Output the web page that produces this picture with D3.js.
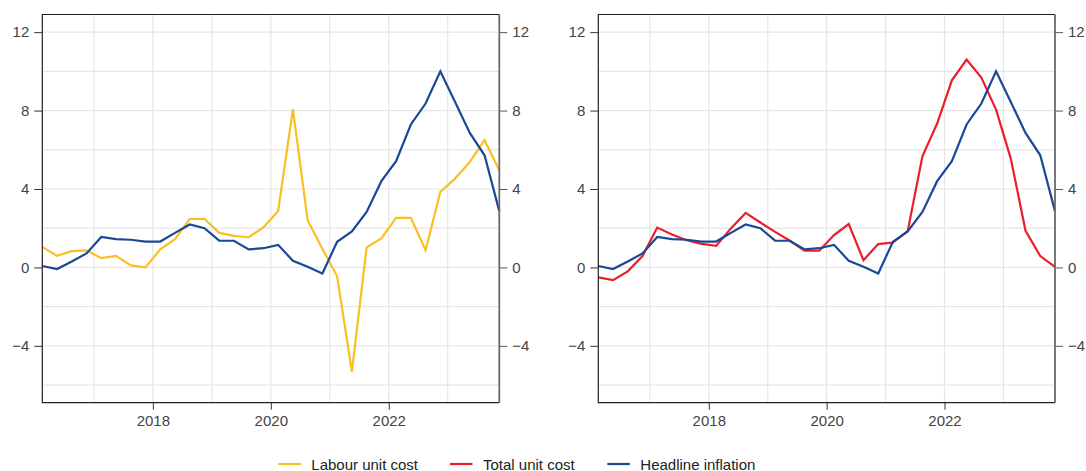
<!DOCTYPE html>
<html><head><meta charset="utf-8">
<script src="https://cdn.jsdelivr.net/npm/d3@7"></script>
<style>
body{margin:0;background:#fff;}
svg text{font-family:"Liberation Sans",Arial,sans-serif;}
</style></head>
<body><svg id="c" width="1086" height="471"></svg>
<script>
const quarters = ["2016Q1","2016Q2","2016Q3","2016Q4","2017Q1","2017Q2","2017Q3","2017Q4",
"2018Q1","2018Q2","2018Q3","2018Q4","2019Q1","2019Q2","2019Q3","2019Q4",
"2020Q1","2020Q2","2020Q3","2020Q4","2021Q1","2021Q2","2021Q3","2021Q4",
"2022Q1","2022Q2","2022Q3","2022Q4","2023Q1","2023Q2","2023Q3","2023Q4"];
const headlineInflation = [0.07,-0.08,0.3,0.71,1.55,1.44,1.41,1.32,1.32,1.76,2.19,2.0,1.37,1.36,0.92,0.98,
1.15,0.34,0.03,-0.31,1.31,1.84,2.83,4.4,5.42,7.29,8.36,10.0,8.44,6.86,5.72,2.87];
const labourUnitCost = [1.05,0.59,0.83,0.87,0.47,0.59,0.1,0.0,0.92,1.44,2.47,2.48,1.76,1.61,1.54,2.04,
2.88,8.07,2.41,0.95,-0.45,-5.32,1.02,1.48,2.53,2.53,0.88,3.85,4.53,5.38,6.49,4.96];
const totalUnitCost = [-0.51,-0.65,-0.2,0.58,2.03,1.68,1.39,1.2,1.1,1.99,2.78,2.29,1.81,1.36,0.85,0.85,
1.65,2.21,0.37,1.19,1.27,1.85,5.67,7.34,9.54,10.6,9.68,8.05,5.55,1.87,0.58,0.03];
const yTickValues = [-4,0,4,8,12];
const yGridValues = [-6,-4,-2,0,2,4,6,8,10,12];
const xTickYears = [2018,2020,2022];
const xGridYears = [2017,2018,2019,2020,2021,2022,2023];
const legendItems = [
  {name:"Labour unit cost", color:"#FBBF24"},
  {name:"Total unit cost", color:"#EC1E2C"},
  {name:"Headline inflation", color:"#1B4896"}
];
const colors = {labour:"#FBBF24", total:"#EC1E2C", headline:"#1B4896"};

function qToYear(q){ const yy=+q.slice(0,4), n=+q.slice(5); return yy + (n-0.5)/4; }

const svg = d3.select("#c");
const plotTop=14.5, plotBottom=402.7;
const yScale = d3.scaleLinear().domain([-6.9,12.9]).range([plotBottom, plotTop]);

function panel(left, right, series){
  const x = d3.scaleLinear().domain([qToYear(quarters[0]), qToYear(quarters[quarters.length-1])]).range([left,right]);
  const g = svg.append("g");
  g.selectAll(".hg").data(yGridValues).enter().append("line")
    .attr("x1",left).attr("x2",right).attr("y1",d=>yScale(d)).attr("y2",d=>yScale(d))
    .attr("stroke","#e6e6e6").attr("stroke-width",1.2);
  g.selectAll(".vg").data(xGridYears).enter().append("line")
    .attr("x1",d=>x(d)).attr("x2",d=>x(d)).attr("y1",plotTop).attr("y2",plotBottom)
    .attr("stroke","#e6e6e6").attr("stroke-width",1.2);
  series.forEach(s=>{
    const line = d3.line().x((d,i)=>x(qToYear(quarters[i]))).y(d=>yScale(d));
    g.append("path").datum(s.values).attr("d",line).attr("fill","none")
      .attr("stroke",s.color).attr("stroke-width",2.2).attr("stroke-linejoin","miter");
  });
  const fmt = d=> d<0 ? "\u2212"+Math.abs(d) : String(d);
  const la = g.append("g").attr("transform",`translate(${left},0)`)
    .call(d3.axisLeft(yScale).tickValues(yTickValues).tickSize(8).tickPadding(5).tickFormat(fmt));
  const ra = g.append("g").attr("transform",`translate(${right},0)`)
    .call(d3.axisRight(yScale).tickValues(yTickValues).tickSize(8).tickPadding(5).tickFormat(fmt));
  const ba = g.append("g").attr("transform",`translate(0,${plotBottom})`)
    .call(d3.axisBottom(x).tickValues(xTickYears).tickSize(7).tickPadding(6).tickFormat(d3.format("d")));
  [la,ra,ba].forEach(a=>{
    a.select(".domain").remove();
    a.selectAll("text").attr("font-size",15).attr("fill","#444");
    a.selectAll("line").attr("stroke","#333");
  });
  ra.selectAll("line").attr("stroke","#555");
  g.append("path").attr("d",`M${right},${plotTop}H${left}V${plotBottom}H${right}`)
    .attr("fill","none").attr("stroke","#222").attr("stroke-width",1.2);
  g.append("line").attr("x1",right).attr("x2",right).attr("y1",plotTop).attr("y2",plotBottom)
    .attr("stroke","#6a6a6a").attr("stroke-width",1.8);
}

panel(42.3, 499.3, [
  {values:labourUnitCost, color:colors.labour},
  {values:headlineInflation, color:colors.headline}
]);
panel(598.3, 1055, [
  {values:totalUnitCost, color:colors.total},
  {values:headlineInflation, color:colors.headline}
]);

const legX = [278.3, 450, 607.3];
const lg = svg.append("g");
legendItems.forEach((it,i)=>{
  lg.append("line").attr("x1",legX[i]).attr("x2",legX[i]+22.5).attr("y1",464).attr("y2",464)
    .attr("stroke",it.color).attr("stroke-width",2.2);
  lg.append("text").attr("x",legX[i]+33).attr("y",469.5).attr("font-size",15).attr("fill","#222").text(it.name);
});
</script></body></html>
